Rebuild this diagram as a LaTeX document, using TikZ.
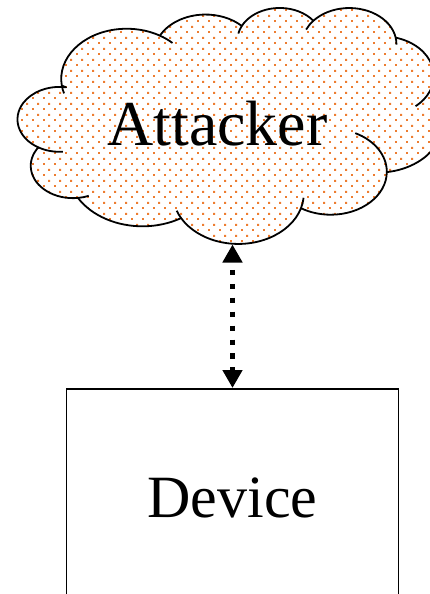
\documentclass[tikz,border=0pt]{standalone}
\usepackage{fontspec}
\setmainfont{Liberation Serif}
\usetikzlibrary{arrows.meta,patterns.meta}

\definecolor{dotorange}{RGB}{237,125,49}

% orange dots on a diagonal lattice
\pgfdeclarepattern{
  name=orangedots, type=uncolored,
  bottom left={\pgfpoint{0pt}{0pt}},
  top right={\pgfpoint{10.67pt}{10.67pt}},
  tile size={\pgfpoint{10.67pt}{10.67pt}},
  code={
    \pgfpathrectangle{\pgfpoint{0pt}{0pt}}{\pgfpoint{1.9pt}{1.9pt}}
    \pgfpathrectangle{\pgfpoint{5.335pt}{5.335pt}}{\pgfpoint{1.9pt}{1.9pt}}
    \pgfusepath{fill}
  }
}

% elliptical arc given by radii, visual start angle and visual sweep;
% the visual angles are turned into the parametric angles that TikZ uses
\newcommand\cloudarc[4]{%
  \pgfmathsetmacro\cldS{atan2((#1)*sin(#3),(#2)*cos(#3))}%
  \pgfmathsetmacro\cldE{atan2((#1)*sin((#3)+(#4)),(#2)*cos((#3)+(#4)))}%
  \pgfmathsetmacro\cldD{(#4)>0 ? mod(\cldE-\cldS+720,360) : -mod(\cldS-\cldE+720,360)}%
}

\tikzset{
  cloud arc/.code n args={4}{%
    \cloudarc{#1}{#2}{#3}{#4}%
    \tikzset{x radius=#1, y radius=#2, start angle=\cldS, delta angle=\cldD}},
  cloudline/.style={draw=black, line width=1.8pt, line join=round},
  devicebox/.style={draw=black, line width=1.8pt, minimum width=332pt,
    minimum height=222pt, inner sep=0pt},
  linkarrow/.style={line width=5.5pt, dash pattern=on 5.5pt off 8.44pt,
    dash phase=5.5pt,
    arrows={Triangle[width=19pt,length=18pt]-Triangle[width=19pt,length=18pt]}},
}

\begin{document}
\begin{tikzpicture}[x=1pt, y=-1pt]
\useasboundingbox (0,0) rectangle (429,594);

% the cloud, laid out in a 432 x 432 frame
\begin{scope}[shift={(24,7.2)}, x=0.97pt, y=-0.546pt]
  \path[cloudline, pattern=orangedots, pattern color=dotorange]
    (39.00,143.70) coordinate (j0)
    arc[cloud arc={67.53}{91.90}{-190.4875}{123.7805}] coordinate (j1)
    arc[cloud arc={53.33}{72.67}{-144.1024}{89.9452}] coordinate (j2)
    arc[cloud arc={43.65}{59.45}{-145.8079}{99.7230}] coordinate (j3)
    arc[cloud arc={48.57}{65.95}{-130.9861}{117.2417}] coordinate (j4)
    arc[cloud arc={53.33}{72.73}{-78.7089}{109.0269}] coordinate (j5)
    arc[cloud arc={67.75}{92.20}{-46.2673}{130.2690}] coordinate (j6)
    arc[cloud arc={57.85}{78.67}{0.6250}{114.0333}] coordinate (j7)
    arc[cloud arc={67.52}{92.15}{22.4654}{120.2999}] coordinate (j8)
    arc[cloud arc={77.20}{105.43}{66.2448}{74.9950}] coordinate (j9)
    arc[cloud arc={43.60}{59.18}{-274.9421}{138.3280}] coordinate (j10)
    arc[cloud arc={43.45}{59.45}{-246.8285}{163.3247}] -- cycle;

  % inner strokes running on from the cusps
  \draw[cloudline] (j10) arc[cloud arc={43.45}{59.45}{113.1715}{-26.4295}];
  \draw[cloudline] (j9)  arc[cloud arc={43.60}{59.18}{85.0579}{-11.4475}];
  \draw[cloudline] (j8)  arc[cloud arc={67.52}{92.15}{142.7653}{11}];
  \draw[cloudline] (j7)  arc[cloud arc={67.52}{92.15}{22.4654}{-15.998}];
  \draw[cloudline] (j6)  arc[cloud arc={57.85}{78.67}{0.6250}{-70.9174}];
  \draw[cloudline] (j5)  arc[cloud arc={53.33}{72.73}{30.318}{27.7515}];
  \draw[cloudline] (j4)  arc[cloud arc={48.57}{65.95}{-13.7444}{14.8589}];
  \draw[cloudline] (j3)  arc[cloud arc={48.57}{65.95}{-130.9861}{-18.1954}];
  \draw[cloudline] (j2)  arc[cloud arc={43.65}{59.45}{-145.8079}{-17.6864}];
  \draw[cloudline] (j1)  arc[cloud arc={67.53}{91.90}{-66.707}{12.3194}];
  \draw[cloudline] (j0)  arc[cloud arc={67.53}{91.90}{-190.4875}{-11.8582}];
\end{scope}

\node[anchor=base, font=\fontsize{64}{72}\selectfont] (attacker) at (217.5,145) {Attacker};

% device box, running off the bottom edge
\node[devicebox, anchor=north] (device) at (232.5,388) {};
\node[anchor=base, font=\fontsize{60}{68}\selectfont] (devlabel) at (232.5,517) {Device};

\coordinate (cloudbase) at (232.5,244.5);
\draw[linkarrow] (cloudbase) -- (device.north);
\end{tikzpicture}
\end{document}
